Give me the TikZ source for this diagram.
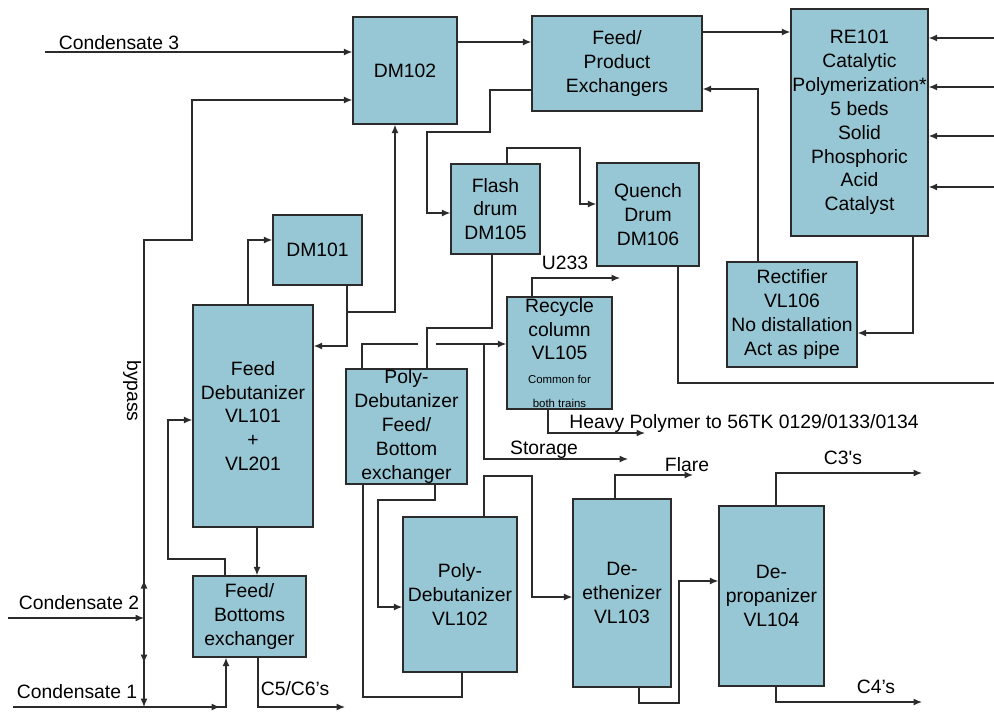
\documentclass[tikz,border=0pt]{standalone}
\usepackage{fontspec}
\setmainfont{Liberation Sans}
\usepackage{tikz}
\usetikzlibrary{arrows.meta,positioning}
\definecolor{vessel}{HTML}{97C7D4}
\definecolor{edge}{HTML}{2B2B2B}

\begin{document}
\begin{tikzpicture}[x=0.02cm,y=-0.02cm,
  unit/.style={draw=edge,line width=0.8pt,fill=vessel,inner sep=0pt,align=center,font=\fontsize{11}{13.6}\selectfont},
  lbl/.style={inner sep=0pt,font=\fontsize{11}{13.6}\selectfont},
  pipe/.style={draw=edge,line width=0.7pt},
  flow/.style={pipe,-{Latex[length=1.7mm,width=1.4mm]}}]
\useasboundingbox (0,0) rectangle (994,711);

% vessels and exchangers
\node[unit,minimum width=2.08cm,minimum height=2.14cm] (dmB) at (405,70.5) {DM102};
\node[unit,minimum width=3.4cm,minimum height=1.9cm] (fpx) at (617,63.5) {Feed/\\Product\\Exchangers};
\node[unit,minimum width=2.74cm,minimum height=4.54cm] (re) at (859.5,122.5) {RE101\\Catalytic\\Polymerization*\\5 beds\\Solid\\Phosphoric\\Acid\\Catalyst};
\node[unit,minimum width=1.78cm,minimum height=1.4cm] (dmA) at (317.5,250) {DM101};
\node[unit,minimum width=2.4cm,minimum height=4.44cm] (fdeb) at (253,416) {Feed\\Debutanizer\\VL101\\+\\VL201};
\node[unit,minimum width=2.26cm,minimum height=1.62cm] (fbx) at (249.5,616.5) {Feed/\\Bottoms\\exchanger};
\node[unit,minimum width=1.78cm,minimum height=1.8cm] (flash) at (495.5,209) {Flash\\drum\\DM105};
\node[unit,minimum width=2.04cm,minimum height=2.06cm] (quench) at (648,214.5) {Quench\\Drum\\DM106};
\node[unit,minimum width=2.6cm,minimum height=2.1cm] (rect) at (792,314.5) {Rectifier\\VL106\\No distallation\\Act as pipe};
\node[unit,minimum width=2.1cm,minimum height=2.24cm] (recyc) at (559.5,353) {Recycle\\column\\VL105\\{\fontsize{6.5}{13.6}\selectfont Common for}\\{\fontsize{6.5}{13.6}\selectfont both trains}};
\node[unit,minimum width=2.42cm,minimum height=2.3cm] (pdx) at (406.5,426.5) {};
\node[lbl,align=center] (pdxt) at (pdx) {Poly-\\Debutanizer\\Feed/\\Bottom\\exchanger};
\node[unit,minimum width=2.28cm,minimum height=3.1cm] (pdeb) at (460,594.5) {Poly-\\Debutanizer\\VL102};
\node[unit,minimum width=1.96cm,minimum height=3.76cm] (deeth) at (622,593) {De-\\ethenizer\\VL103};
\node[unit,minimum width=2.1cm,minimum height=3.6cm] (deprop) at (771.5,596) {De-\\propanizer\\VL104};

% stream labels
\node[lbl] (lc3) at (119,43) {Condensate 3};
\node[lbl] (lc2) at (79,603) {Condensate 2};
\node[lbl] (lc1) at (77,692) {Condensate 1};
\node[lbl,rotate=-90] (lbyp) at (132,391) {bypass};
\node[lbl] (lc56) at (295,689) {C5/C6's};
\node[lbl] (lu) at (565,263) {U233};
\node[lbl] (lhp) at (744,423) {Heavy Polymer to 56TK 0129/0133/0134};
\node[lbl] (lst) at (544,450) {Storage};
\node[lbl] (lfl) at (687,465) {Flare};
\node[lbl] (lc3s) at (843,458) {C3\textquotesingle s};
\node[lbl] (lc4s) at (876,687) {C4's};

\coordinate (inC3) at (45,52);
\coordinate (inC2) at (8,618);
\coordinate (inC1) at (13,707);
\coordinate (jC2) at (144,618);
\coordinate (jC1) at (144,707);
\coordinate (jA) at (347,312);
\coordinate (jS) at (484,344);
\coordinate (hopL) at (418,344);
\coordinate (hopR) at (436,344);
\coordinate (outC56) at (345,707);
\coordinate (outU) at (620,278);
\coordinate (outHP) at (645,433);
\coordinate (outSt) at (628,459);
\coordinate (outFl) at (693,475);
\coordinate (outC3s) at (922,473);
\coordinate (outC4s) at (922,702);
\coordinate (outQ) at (994,383);

% feeds and bypass
\draw[flow] (inC3) -- (dmB.west |- inC3);
\draw[flow] (inC2) -- (jC2);
\draw[flow] (jC2) -- (144,240) -| (192,100) -- (dmB.west |- 0,100);
\draw[flow] (jC2) -- (144,580);
\draw[flow] (jC2) -- (jC1);
\draw[flow] (jC2) -- (144,663);
\draw[flow] (inC1) -| (fbx.south -| 226,0);
\draw[flow] (inC1) -- (220,707);

% feed debutanizer loop
\draw[flow] (fdeb.south -| 257,0) -- (fbx.north -| 257,0);
\draw[flow] (fbx.north -| 225,0) |- (168,559) |- (fdeb.west |- 0,420);
\draw[flow] (fbx.south -| 258,0) |- (outC56);
\draw[flow] (fdeb.north -| 248,0) |- (dmA.west |- 0,240);
\draw[flow] (dmA.south -| 347,0) |- (fdeb.east |- 0,346);
\draw[flow] (jA) -| (dmB.south -| 395,0);

% reactor section
\draw[flow] (dmB.east |- 0,42) -- (fpx.west |- 0,42);
\draw[flow] (fpx.east |- 0,32) -- (re.west |- 0,32);
\foreach \yy in {38,87,136,187}
  \draw[flow] (994,\yy) -- (re.east |- 0,\yy);
\draw[flow] (rect.north -| 758,0) |- (fpx.east |- 0,89);
\draw[flow] (re.south -| 913,0) |- (rect.east |- 0,333);
\draw[flow] (fpx.west |- 0,90) -| (490,132) -| (427,213) -- (flash.west |- 0,213);
\draw[flow] (flash.north -| 507,0) |- (580,148) |- (quench.west |- 0,204);
\draw[pipe] (quench.south -| 678,0) |- (outQ);

% poly-debutanizer section
\draw[pipe] (pdx.north -| 362,0) |- (hopL);
\draw[flow] (hopR) -- (recyc.west |- hopR);
\draw[pipe] (flash.south -| 492,0) |- (427,328) -- (pdx.north -| 427,0);
\draw[flow] (jS) |- (outSt);
\draw[flow] (recyc.north -| 532,0) |- (outU);
\draw[flow] (recyc.south -| 548,0) |- (outHP);
\draw[flow] (pdx.south -| 435,0) |- (378,500) |- (pdeb.west |- 0,607);
\draw[pipe] (pdx.south -| 363,0) |- (462,697) -- (pdeb.south -| 462,0);

% light ends
\draw[flow] (pdeb.north -| 484,0) |- (532,476) |- (deeth.west |- 0,597);
\draw[flow] (deeth.north -| 615,0) |- (outFl);
\draw[flow] (deeth.south -| 639,0) |- (679,703) |- (deprop.west |- 0,581);
\draw[flow] (deprop.north -| 776,0) |- (outC3s);
\draw[flow] (deprop.south -| 776,0) |- (outC4s);
\end{tikzpicture}
\end{document}
